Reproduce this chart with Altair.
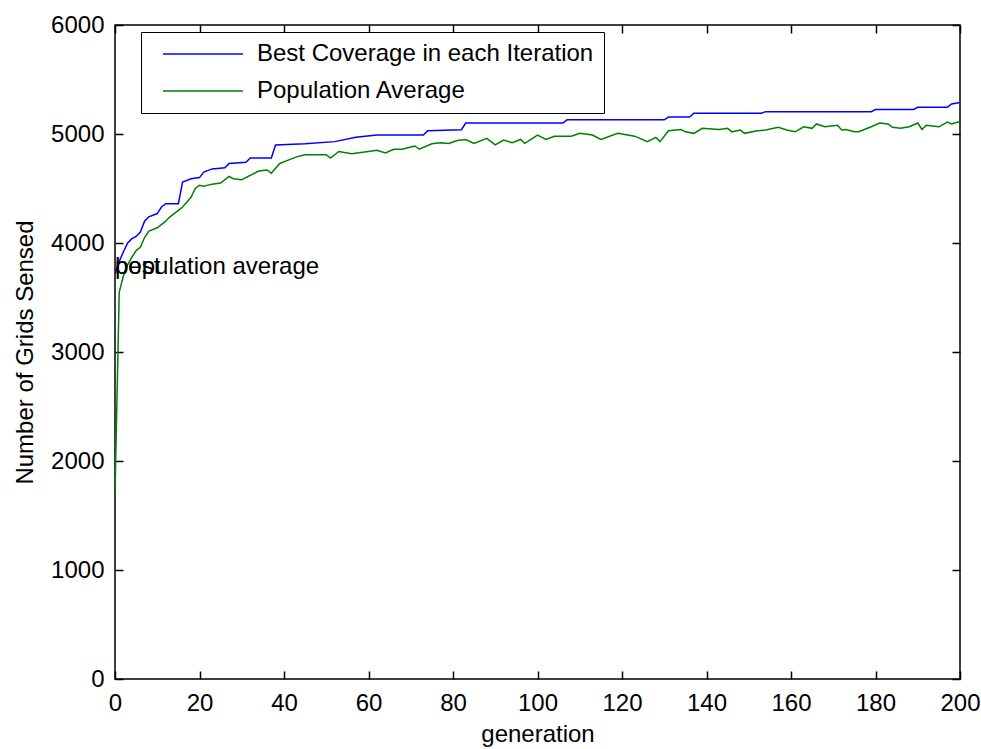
import altair as alt
import pandas as pd

# ---- data ----
best_gen = [0, 1, 2, 3, 4, 5, 6, 7, 8, 10, 11, 12, 15, 16, 18, 20, 21, 23, 26, 27,
            31, 32, 37, 38, 45, 52, 57, 62, 73, 74, 82, 83, 106, 107, 130, 131, 136,
            137, 153, 154, 179, 180, 189, 190, 197, 198, 200]
best_val = [3720, 3830, 3920, 4000, 4040, 4060, 4100, 4200, 4240, 4270, 4330, 4360, 4360, 4560, 4590, 4600, 4650, 4680, 4690, 4730,
            4740, 4780, 4780, 4900, 4910, 4930, 4970, 4990, 4990, 5030, 5040, 5100, 5100, 5130, 5130, 5155, 5155,
            5190, 5190, 5205, 5205, 5225, 5225, 5245, 5245, 5275, 5290]

pop_gen = [0, 1, 2, 3, 4, 5, 6, 7, 8, 10, 12, 13, 15, 16, 18, 19, 20, 21, 23, 25,
           27, 28, 30, 32, 34, 36, 37, 39, 41, 43, 45, 50, 51, 53, 56, 60, 62, 64, 66, 68,
           70, 71, 72, 75, 77, 79, 81, 83, 85, 88, 90, 92, 94, 96, 97, 100, 102, 104, 108, 110,
           113, 115, 119, 123, 126, 128, 129, 131, 134, 135, 137, 139, 143, 145, 146, 148, 149, 152, 154, 157,
           159, 161, 163, 165, 166, 168, 171, 172, 173, 175, 176, 179, 181, 183, 184, 186, 188, 190, 191, 192,
           195, 197, 198, 200]
pop_val = [1700, 3550, 3700, 3800, 3870, 3930, 3960, 4050, 4110, 4140, 4200, 4240, 4300, 4330, 4420, 4500, 4530, 4520, 4540, 4550,
           4610, 4590, 4580, 4620, 4660, 4670, 4640, 4730, 4760, 4790, 4810, 4810, 4780, 4840, 4820, 4840, 4850, 4826, 4860, 4860,
           4880, 4890, 4860, 4910, 4920, 4914, 4940, 4950, 4914, 4960, 4900, 4945, 4920, 4950, 4914, 4990, 4950, 4980, 4980, 5006,
           4990, 4950, 5006, 4980, 4930, 4969, 4930, 5030, 5041, 5020, 5006, 5052, 5041, 5052, 5020, 5036, 5006, 5030, 5036, 5061,
           5036, 5020, 5066, 5052, 5092, 5066, 5081, 5036, 5041, 5020, 5020, 5066, 5101, 5092, 5061, 5052, 5066, 5101, 5041, 5081,
           5066, 5110, 5092, 5116]

series_names = ["Best Coverage in each Iteration", "Population Average"]
series_colors = ["#0000ff", "#008000"]

annot_text = ["best", "population average"]
annot_x = [0, 0]
annot_y = [3780, 3780]

x_ticks = [0, 20, 40, 60, 80, 100, 120, 140, 160, 180, 200]
y_ticks = [0, 1000, 2000, 3000, 4000, 5000, 6000]

FONT = "Liberation Sans"
FS = 24

df = pd.concat([
    pd.DataFrame({"generation": best_gen, "value": best_val, "series": series_names[0]}),
    pd.DataFrame({"generation": pop_gen, "value": pop_val, "series": series_names[1]}),
])
annot = pd.DataFrame({"generation": annot_x, "value": annot_y, "label": annot_text})

xscale = alt.Scale(domain=[0, 200], nice=False, zero=False)
yscale = alt.Scale(domain=[0, 6000], nice=False, zero=False)

TICK = 8

lines = alt.Chart(df).mark_line(strokeWidth=1.5, clip=True).encode(
    x=alt.X("generation:Q", scale=xscale,
            axis=alt.Axis(orient="bottom", values=x_ticks, title="generation", offset=-TICK,
                          tickSize=TICK, domain=False, grid=False, labelPadding=12,
                          titlePadding=7, format="d", labelFlush=False, labelOverlap=False)),
    y=alt.Y("value:Q", scale=yscale,
            axis=alt.Axis(orient="left", values=y_ticks, title="Number of Grids Sensed", offset=-TICK,
                          tickSize=TICK, domain=False, grid=False, labelPadding=11,
                          titlePadding=13, format="d", labelFlush=False, labelOverlap=False)),
    color=alt.Color("series:N", sort=series_names,
                    scale=alt.Scale(domain=series_names, range=series_colors),
                    legend=alt.Legend(title=None, labelLimit=0)),
)

texts = alt.Chart(annot).mark_text(align="left", baseline="middle", font=FONT, fontSize=FS,
                                   color="black").encode(
    x=alt.X("generation:Q", scale=xscale, axis=None),
    y=alt.Y("value:Q", scale=yscale, axis=None),
    text="label:N",
)

frame = alt.Chart(df).mark_line(opacity=0).encode(
    x=alt.X("generation:Q", scale=xscale,
            axis=alt.Axis(orient="top", values=x_ticks, title=None, labels=False, offset=-TICK,
                          tickSize=TICK, domain=False, grid=False)),
    y=alt.Y("value:Q", scale=yscale,
            axis=alt.Axis(orient="right", values=y_ticks, title=None, labels=False, offset=-TICK,
                          tickSize=TICK, domain=False, grid=False)),
    detail="series:N",
)

chart = alt.layer(lines, texts, frame).resolve_axis(
    x="independent", y="independent"
).properties(
    width=845, height=654,
    autosize=alt.AutoSizeParams(type="none"),
    padding={"left": 115, "top": 25, "right": 21, "bottom": 70},
    background="white",
).configure_view(
    stroke="black", strokeWidth=1.5
).configure_axis(
    labelFont=FONT, labelFontSize=FS, labelColor="black",
    titleFont=FONT, titleFontSize=FS, titleColor="black", titleFontWeight="normal",
    tickColor="black", tickWidth=1.5,
).configure_legend(
    orient="none", legendX=26, legendY=7,
    labelFont=FONT, labelFontSize=FS, labelColor="black", labelLimit=0,
    symbolType="M0,0H16", symbolSize=100, symbolStrokeWidth=1.5,
    labelOffset=82, padding=10, rowPadding=13,
    strokeColor="black", fillColor="white", cornerRadius=0,
)

chart.save("out.html", embed_options={"renderer": "svg", "actions": False})
